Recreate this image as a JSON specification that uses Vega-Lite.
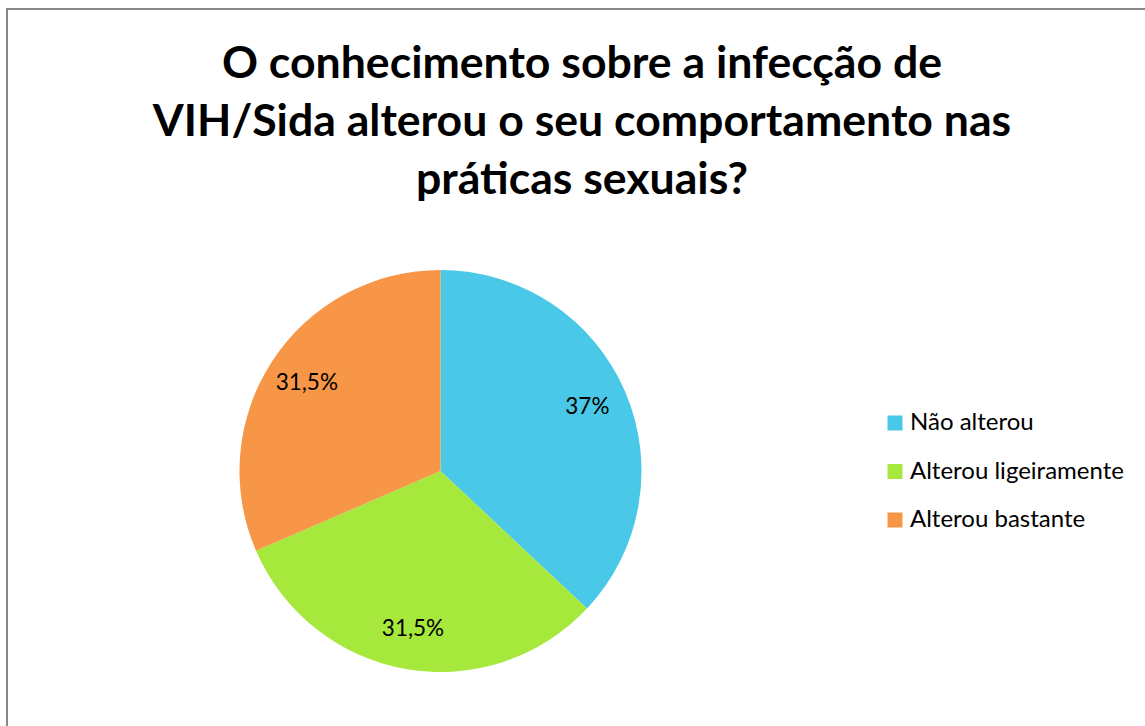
{
  "$schema": "https://vega.github.io/schema/vega-lite/v6.json",
  "autosize": "none",
  "width": 1300,
  "height": 740,
  "padding": {"left": 7, "top": 9, "right": 0, "bottom": 0},
  "background": "white",
  "view": {"stroke": "#878787", "strokeWidth": 2, "fill": "white"},
  "title": {
    "text": ["O conhecimento sobre a infecção de", "VIH/Sida alterou o seu comportamento nas", "práticas sexuais?"],
    "anchor": "middle",
    "frame": "group",
    "offset": -195,
    "dx": -75,
    "font": "Lato",
    "fontSize": 44.6,
    "fontWeight": "bold",
    "color": "black",
    "lineHeight": 58
  },
  "data": {
    "values": [
      {"categoria": "Não alterou", "valor": 37, "rotulo": "37%", "ordem": 1},
      {"categoria": "Alterou ligeiramente", "valor": 31.5, "rotulo": "31,5%", "ordem": 2},
      {"categoria": "Alterou bastante", "valor": 31.5, "rotulo": "31,5%", "ordem": 3}
    ]
  },
  "encoding": {
    "theta": {"field": "valor", "type": "quantitative", "stack": true},
    "order": {"field": "ordem", "type": "quantitative"},
    "color": {
      "field": "categoria",
      "type": "nominal",
      "sort": ["Não alterou", "Alterou ligeiramente", "Alterou bastante"],
      "scale": {
        "domain": ["Não alterou", "Alterou ligeiramente", "Alterou bastante"],
        "range": ["#4AC8E8", "#A6E83C", "#F79646"]
      },
      "legend": {
        "title": null,
        "orient": "none",
        "legendX": 876,
        "legendY": 402,
        "symbolType": "square",
        "symbolSize": 225,
        "symbolStrokeWidth": 0,
        "labelFont": "Lato",
        "labelFontSize": 24,
        "labelLimit": 400,
        "labelColor": "black",
        "labelOffset": 3,
        "rowPadding": 24.5
      }
    }
  },
  "layer": [
    {
      "mark": {"type": "arc", "outerRadius": 201, "xOffset": -216.5, "yOffset": 92, "stroke": "white", "strokeWidth": 0}
    },
    {
      "mark": {"type": "text", "radius": 160, "xOffset": -216.5, "yOffset": 92, "font": "Lato", "fontSize": 22.5, "color": "black"},
      "encoding": {
        "text": {"field": "rotulo", "type": "nominal"},
        "color": {"value": "black"}
      }
    }
  ],
  "config": {
    "view": {"stroke": "#878787", "strokeWidth": 2}
  }
}
